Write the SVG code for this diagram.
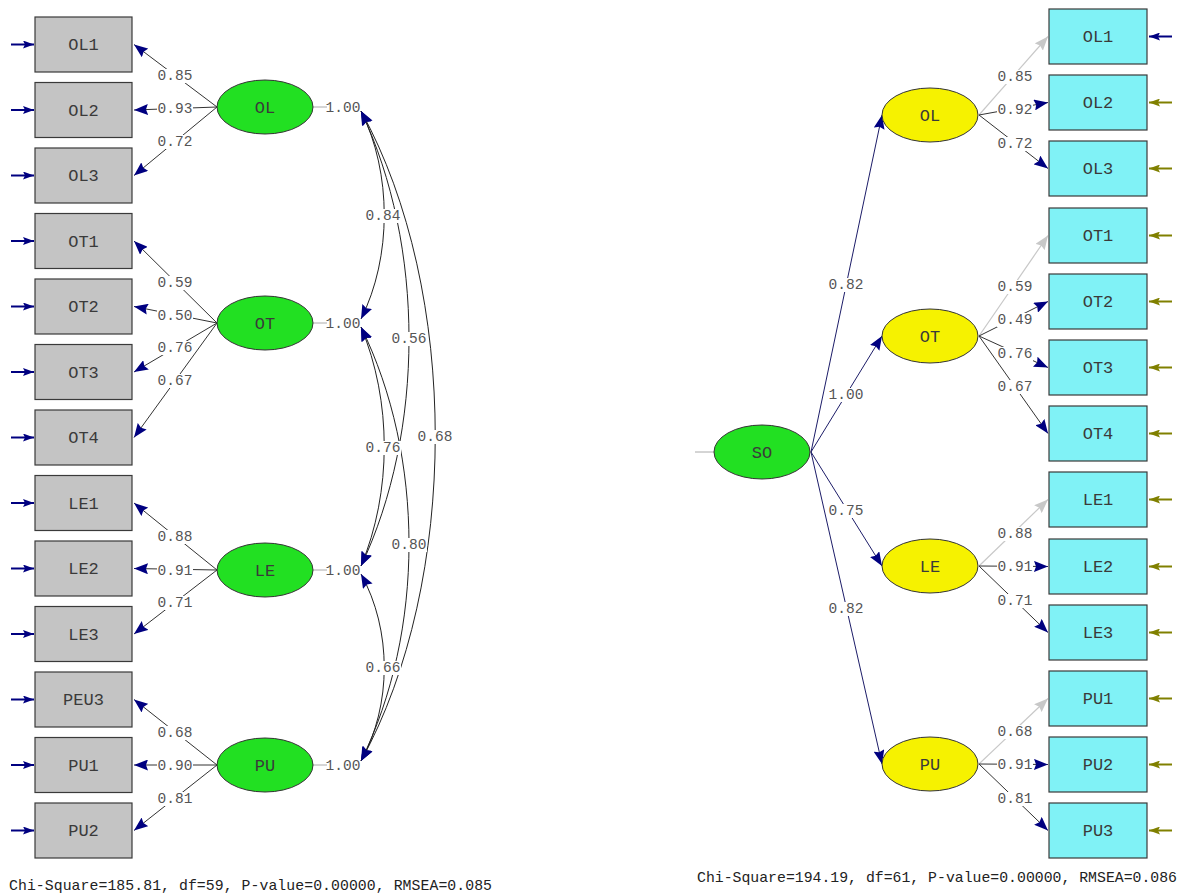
<svg xmlns="http://www.w3.org/2000/svg" width="1182" height="894" viewBox="0 0 1182 894">
<style>
.bxL{fill:#c4c4c4;stroke:#3a3a3a;stroke-width:1.2}
.bxR{fill:#80f2f6;stroke:#3a3a3a;stroke-width:1.2}
.elG{fill:#22e022;stroke:#333;stroke-width:1}
.elY{fill:#f6f200;stroke:#333;stroke-width:1}
.nt{font-family:"Liberation Mono","DejaVu Sans Mono",monospace;font-size:17px;fill:#3a3a3a;text-anchor:middle}
.lb{font-family:"Liberation Mono","DejaVu Sans Mono",monospace;font-size:14.5px;fill:#555;text-anchor:middle}
.bg{fill:#fff}
.ft{font-family:"Liberation Mono","DejaVu Sans Mono",monospace;font-size:14.8px;fill:#222}
.ln{stroke:#333;stroke-width:1;fill:none;marker-end:url(#nv)}
.lg{stroke:#c8c8c8;stroke-width:1.2;fill:none;marker-end:url(#gy)}
.so{stroke:#1c1c68;stroke-width:1;fill:none;marker-end:url(#nv)}
.arc{stroke:#222;stroke-width:1;fill:none;marker-start:url(#nv);marker-end:url(#nv)}
.eN{stroke:#000080;stroke-width:2;marker-end:url(#en)}
.eO{stroke:#808000;stroke-width:2;marker-end:url(#eo)}
.gl{stroke:#aaa;stroke-width:1}
</style>
<defs>
<marker id="nv" viewBox="0 0 15 11" markerWidth="15" markerHeight="11" refX="14" refY="5.5" orient="auto-start-reverse" markerUnits="userSpaceOnUse"><path d="M0,0 L14,5.5 L0,11 L2,5.5 z" fill="#000080"/></marker>
<marker id="gy" viewBox="0 0 15 11" markerWidth="15" markerHeight="11" refX="14" refY="5.5" orient="auto" markerUnits="userSpaceOnUse"><path d="M0,0 L14,5.5 L0,11 L2,5.5 z" fill="#c8c8c8"/></marker>
<marker id="en" viewBox="0 0 12 8" markerWidth="12" markerHeight="8" refX="11" refY="4" orient="auto" markerUnits="userSpaceOnUse"><path d="M0,0 L11,4 L0,8 L2,4 z" fill="#000080"/></marker>
<marker id="eo" viewBox="0 0 12 8" markerWidth="12" markerHeight="8" refX="11" refY="4" orient="auto" markerUnits="userSpaceOnUse"><path d="M0,0 L11,4 L0,8 L2,4 z" fill="#808000"/></marker>
</defs>
<rect width="1182" height="894" fill="#fff"/>

<g id="connectors">
<line class="eN" x1="11" y1="44.5" x2="34" y2="44.5"/>
<line class="eN" x1="11" y1="110" x2="34" y2="110"/>
<line class="eN" x1="11" y1="175.5" x2="34" y2="175.5"/>
<line class="eN" x1="11" y1="241" x2="34" y2="241"/>
<line class="eN" x1="11" y1="306.5" x2="34" y2="306.5"/>
<line class="eN" x1="11" y1="372" x2="34" y2="372"/>
<line class="eN" x1="11" y1="437.5" x2="34" y2="437.5"/>
<line class="eN" x1="11" y1="503" x2="34" y2="503"/>
<line class="eN" x1="11" y1="568.5" x2="34" y2="568.5"/>
<line class="eN" x1="11" y1="634" x2="34" y2="634"/>
<line class="eN" x1="11" y1="699.5" x2="34" y2="699.5"/>
<line class="eN" x1="11" y1="765" x2="34" y2="765"/>
<line class="eN" x1="11" y1="830.5" x2="34" y2="830.5"/>
<line class="ln" x1="217" y1="107" x2="134" y2="44.5"/>
<line class="ln" x1="217" y1="107" x2="134" y2="110"/>
<line class="ln" x1="217" y1="107" x2="134" y2="175.5"/>
<line class="ln" x1="217" y1="323" x2="134" y2="241"/>
<line class="ln" x1="217" y1="323" x2="134" y2="306.5"/>
<line class="ln" x1="217" y1="323" x2="134" y2="372"/>
<line class="ln" x1="217" y1="323" x2="134" y2="437.5"/>
<line class="ln" x1="217" y1="570" x2="134" y2="503"/>
<line class="ln" x1="217" y1="570" x2="134" y2="568.5"/>
<line class="ln" x1="217" y1="570" x2="134" y2="634"/>
<line class="ln" x1="217" y1="765" x2="134" y2="699.5"/>
<line class="ln" x1="217" y1="765" x2="134" y2="765"/>
<line class="ln" x1="217" y1="765" x2="134" y2="830.5"/>
<line class="gl" x1="313" y1="107" x2="327" y2="107"/>
<line class="gl" x1="313" y1="323" x2="327" y2="323"/>
<line class="gl" x1="313" y1="570" x2="327" y2="570"/>
<line class="gl" x1="313" y1="765" x2="327" y2="765"/>
<path class="arc" d="M361,111 C392,173 392,257 361,319"/>
<path class="arc" d="M361,327 C392,401 392,492 361,566"/>
<path class="arc" d="M361,574 C392,630 392,705 361,761"/>
<path class="arc" d="M361,111 C425,246 425,431 361,566"/>
<path class="arc" d="M361,327 C425,457 425,631 361,761"/>
<path class="arc" d="M361,111 C460,291 460,581 361,761"/>
<line class="gl" x1="695" y1="452" x2="714" y2="452"/>
<line class="so" x1="811" y1="452" x2="882" y2="115"/>
<line class="so" x1="811" y1="452" x2="882" y2="336"/>
<line class="so" x1="811" y1="452" x2="882" y2="566"/>
<line class="so" x1="811" y1="452" x2="882" y2="764"/>
<line class="lg" x1="979" y1="115" x2="1048" y2="36.5"/>
<line class="ln" x1="979" y1="115" x2="1048" y2="102.5"/>
<line class="ln" x1="979" y1="115" x2="1048" y2="168.5"/>
<line class="lg" x1="979" y1="336" x2="1048" y2="235.5"/>
<line class="ln" x1="979" y1="336" x2="1048" y2="301.5"/>
<line class="ln" x1="979" y1="336" x2="1048" y2="367.5"/>
<line class="ln" x1="979" y1="336" x2="1048" y2="433.5"/>
<line class="lg" x1="979" y1="566" x2="1048" y2="499.5"/>
<line class="ln" x1="979" y1="566" x2="1048" y2="566.5"/>
<line class="ln" x1="979" y1="566" x2="1048" y2="632.5"/>
<line class="lg" x1="979" y1="764" x2="1048" y2="698.5"/>
<line class="ln" x1="979" y1="764" x2="1048" y2="764.5"/>
<line class="ln" x1="979" y1="764" x2="1048" y2="830.5"/>
<line class="eN" x1="1172" y1="36.5" x2="1149" y2="36.5"/>
<line class="eO" x1="1172" y1="102.5" x2="1149" y2="102.5"/>
<line class="eO" x1="1172" y1="168.5" x2="1149" y2="168.5"/>
<line class="eO" x1="1172" y1="235.5" x2="1149" y2="235.5"/>
<line class="eO" x1="1172" y1="301.5" x2="1149" y2="301.5"/>
<line class="eO" x1="1172" y1="367.5" x2="1149" y2="367.5"/>
<line class="eO" x1="1172" y1="433.5" x2="1149" y2="433.5"/>
<line class="eO" x1="1172" y1="499.5" x2="1149" y2="499.5"/>
<line class="eO" x1="1172" y1="566.5" x2="1149" y2="566.5"/>
<line class="eO" x1="1172" y1="632.5" x2="1149" y2="632.5"/>
<line class="eO" x1="1172" y1="698.5" x2="1149" y2="698.5"/>
<line class="eO" x1="1172" y1="764.5" x2="1149" y2="764.5"/>
<line class="eO" x1="1172" y1="830.5" x2="1149" y2="830.5"/>

<g id="labels">
<rect class="bg" x="157" y="69" width="36" height="14"/><text class="lb" x="175" y="80">0.85</text>
<rect class="bg" x="157" y="102" width="36" height="14"/><text class="lb" x="175" y="113">0.93</text>
<rect class="bg" x="157" y="135" width="36" height="14"/><text class="lb" x="175" y="146">0.72</text>
<rect class="bg" x="157" y="276" width="36" height="14"/><text class="lb" x="175" y="287">0.59</text>
<rect class="bg" x="157" y="309" width="36" height="14"/><text class="lb" x="175" y="320">0.50</text>
<rect class="bg" x="157" y="341" width="36" height="14"/><text class="lb" x="175" y="352">0.76</text>
<rect class="bg" x="157" y="374" width="36" height="14"/><text class="lb" x="175" y="385">0.67</text>
<rect class="bg" x="157" y="530" width="36" height="14"/><text class="lb" x="175" y="541">0.88</text>
<rect class="bg" x="157" y="564" width="36" height="14"/><text class="lb" x="175" y="575">0.91</text>
<rect class="bg" x="157" y="596" width="36" height="14"/><text class="lb" x="175" y="607">0.71</text>
<rect class="bg" x="157" y="726" width="36" height="14"/><text class="lb" x="175" y="737">0.68</text>
<rect class="bg" x="157" y="759" width="36" height="14"/><text class="lb" x="175" y="770">0.90</text>
<rect class="bg" x="157" y="792" width="36" height="14"/><text class="lb" x="175" y="803">0.81</text>
<text class="lb" x="343" y="112">1.00</text>
<text class="lb" x="343" y="328">1.00</text>
<text class="lb" x="343" y="575">1.00</text>
<text class="lb" x="343" y="770">1.00</text>
<rect class="bg" x="365" y="209" width="36" height="14"/><text class="lb" x="383" y="220">0.84</text>
<rect class="bg" x="365" y="441" width="36" height="14"/><text class="lb" x="383" y="452">0.76</text>
<rect class="bg" x="365" y="661" width="36" height="14"/><text class="lb" x="383" y="672">0.66</text>
<rect class="bg" x="391" y="332" width="36" height="14"/><text class="lb" x="409" y="343">0.56</text>
<rect class="bg" x="391" y="538" width="36" height="14"/><text class="lb" x="409" y="549">0.80</text>
<rect class="bg" x="417" y="430" width="36" height="14"/><text class="lb" x="435" y="441">0.68</text>
<rect class="bg" x="828" y="278" width="36" height="14"/><text class="lb" x="846" y="289">0.82</text>
<rect class="bg" x="828" y="388" width="36" height="14"/><text class="lb" x="846" y="399">1.00</text>
<rect class="bg" x="828" y="504" width="36" height="14"/><text class="lb" x="846" y="515">0.75</text>
<rect class="bg" x="828" y="602" width="36" height="14"/><text class="lb" x="846" y="613">0.82</text>
<rect class="bg" x="997" y="70" width="36" height="14"/><text class="lb" x="1015" y="81">0.85</text>
<rect class="bg" x="997" y="103" width="36" height="14"/><text class="lb" x="1015" y="114">0.92</text>
<rect class="bg" x="997" y="137" width="36" height="14"/><text class="lb" x="1015" y="148">0.72</text>
<rect class="bg" x="997" y="280" width="36" height="14"/><text class="lb" x="1015" y="291">0.59</text>
<rect class="bg" x="997" y="313" width="36" height="14"/><text class="lb" x="1015" y="324">0.49</text>
<rect class="bg" x="997" y="347" width="36" height="14"/><text class="lb" x="1015" y="358">0.76</text>
<rect class="bg" x="997" y="380" width="36" height="14"/><text class="lb" x="1015" y="391">0.67</text>
<rect class="bg" x="997" y="527" width="36" height="14"/><text class="lb" x="1015" y="538">0.88</text>
<rect class="bg" x="997" y="560" width="36" height="14"/><text class="lb" x="1015" y="571">0.91</text>
<rect class="bg" x="997" y="594" width="36" height="14"/><text class="lb" x="1015" y="605">0.71</text>
<rect class="bg" x="997" y="725" width="36" height="14"/><text class="lb" x="1015" y="736">0.68</text>
<rect class="bg" x="997" y="758" width="36" height="14"/><text class="lb" x="1015" y="769">0.91</text>
<rect class="bg" x="997" y="792" width="36" height="14"/><text class="lb" x="1015" y="803">0.81</text>
</g>
</g>

<g id="L_OL1"><rect class="bxL" x="35" y="17" width="97" height="55"/><text class="nt" x="83.5" y="50">OL1</text></g>
<g id="L_OL2"><rect class="bxL" x="35" y="82.5" width="97" height="55"/><text class="nt" x="83.5" y="115.5">OL2</text></g>
<g id="L_OL3"><rect class="bxL" x="35" y="148" width="97" height="55"/><text class="nt" x="83.5" y="181">OL3</text></g>
<g id="L_OT1"><rect class="bxL" x="35" y="213.5" width="97" height="55"/><text class="nt" x="83.5" y="246.5">OT1</text></g>
<g id="L_OT2"><rect class="bxL" x="35" y="279" width="97" height="55"/><text class="nt" x="83.5" y="312">OT2</text></g>
<g id="L_OT3"><rect class="bxL" x="35" y="344.5" width="97" height="55"/><text class="nt" x="83.5" y="377.5">OT3</text></g>
<g id="L_OT4"><rect class="bxL" x="35" y="410" width="97" height="55"/><text class="nt" x="83.5" y="443">OT4</text></g>
<g id="L_LE1"><rect class="bxL" x="35" y="475.5" width="97" height="55"/><text class="nt" x="83.5" y="508.5">LE1</text></g>
<g id="L_LE2"><rect class="bxL" x="35" y="541" width="97" height="55"/><text class="nt" x="83.5" y="574">LE2</text></g>
<g id="L_LE3"><rect class="bxL" x="35" y="606.5" width="97" height="55"/><text class="nt" x="83.5" y="639.5">LE3</text></g>
<g id="L_PEU3"><rect class="bxL" x="35" y="672" width="97" height="55"/><text class="nt" x="83.5" y="705">PEU3</text></g>
<g id="L_PU1"><rect class="bxL" x="35" y="737.5" width="97" height="55"/><text class="nt" x="83.5" y="770.5">PU1</text></g>
<g id="L_PU2"><rect class="bxL" x="35" y="803" width="97" height="55"/><text class="nt" x="83.5" y="836">PU2</text></g>

<g id="L_OL"><ellipse class="elG" cx="265" cy="107" rx="48" ry="27"/><text class="nt" x="265" y="113">OL</text></g>
<g id="L_OT"><ellipse class="elG" cx="265" cy="323" rx="48" ry="27"/><text class="nt" x="265" y="329">OT</text></g>
<g id="L_LE"><ellipse class="elG" cx="265" cy="570" rx="48" ry="27"/><text class="nt" x="265" y="576">LE</text></g>
<g id="L_PU"><ellipse class="elG" cx="265" cy="765" rx="48" ry="27"/><text class="nt" x="265" y="771">PU</text></g>

<g id="R_SO"><ellipse class="elG" cx="762" cy="452" rx="48" ry="27"/><text class="nt" x="762" y="458">SO</text></g>
<g id="R_OL"><ellipse class="elY" cx="930" cy="115" rx="48" ry="27"/><text class="nt" x="930" y="121">OL</text></g>
<g id="R_OT"><ellipse class="elY" cx="930" cy="336" rx="48" ry="27"/><text class="nt" x="930" y="342">OT</text></g>
<g id="R_LE"><ellipse class="elY" cx="930" cy="566" rx="48" ry="27"/><text class="nt" x="930" y="572">LE</text></g>
<g id="R_PU"><ellipse class="elY" cx="930" cy="764" rx="48" ry="27"/><text class="nt" x="930" y="770">PU</text></g>

<g id="R_OL1"><rect class="bxR" x="1049" y="9" width="98" height="55"/><text class="nt" x="1098" y="42">OL1</text></g>
<g id="R_OL2"><rect class="bxR" x="1049" y="75" width="98" height="55"/><text class="nt" x="1098" y="108">OL2</text></g>
<g id="R_OL3"><rect class="bxR" x="1049" y="141" width="98" height="55"/><text class="nt" x="1098" y="174">OL3</text></g>
<g id="R_OT1"><rect class="bxR" x="1049" y="208" width="98" height="55"/><text class="nt" x="1098" y="241">OT1</text></g>
<g id="R_OT2"><rect class="bxR" x="1049" y="274" width="98" height="55"/><text class="nt" x="1098" y="307">OT2</text></g>
<g id="R_OT3"><rect class="bxR" x="1049" y="340" width="98" height="55"/><text class="nt" x="1098" y="373">OT3</text></g>
<g id="R_OT4"><rect class="bxR" x="1049" y="406" width="98" height="55"/><text class="nt" x="1098" y="439">OT4</text></g>
<g id="R_LE1"><rect class="bxR" x="1049" y="472" width="98" height="55"/><text class="nt" x="1098" y="505">LE1</text></g>
<g id="R_LE2"><rect class="bxR" x="1049" y="539" width="98" height="55"/><text class="nt" x="1098" y="572">LE2</text></g>
<g id="R_LE3"><rect class="bxR" x="1049" y="605" width="98" height="55"/><text class="nt" x="1098" y="638">LE3</text></g>
<g id="R_PU1"><rect class="bxR" x="1049" y="671" width="98" height="55"/><text class="nt" x="1098" y="704">PU1</text></g>
<g id="R_PU2"><rect class="bxR" x="1049" y="737" width="98" height="55"/><text class="nt" x="1098" y="770">PU2</text></g>
<g id="R_PU3"><rect class="bxR" x="1049" y="803" width="98" height="55"/><text class="nt" x="1098" y="836">PU3</text></g>

<text class="ft" x="9" y="890" textLength="483" lengthAdjust="spacing">Chi-Square=185.81, df=59, P-value=0.00000, RMSEA=0.085</text>
<text class="ft" x="697" y="882" textLength="480" lengthAdjust="spacing">Chi-Square=194.19, df=61, P-value=0.00000, RMSEA=0.086</text>
</svg>
